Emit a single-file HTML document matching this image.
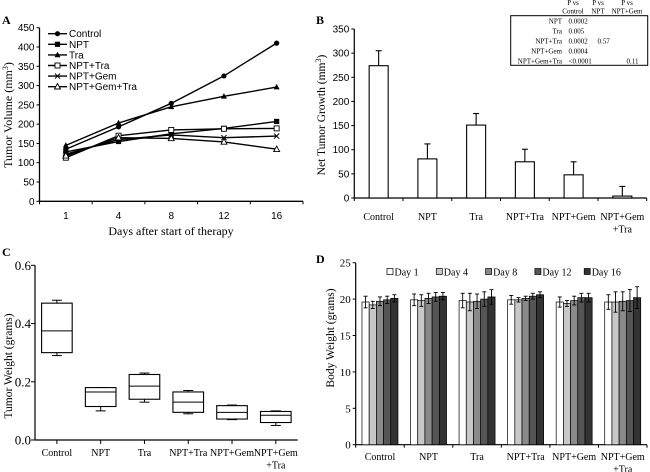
<!DOCTYPE html>
<html><head><meta charset="utf-8"><style>
html,body{margin:0;padding:0;background:#fff;}
svg{display:block;}
.sans{font-family:"Liberation Sans",sans-serif;}
.serif{font-family:"Liberation Serif",serif;}
</style></head><body>
<svg id="fig" width="650" height="472" xmlns="http://www.w3.org/2000/svg">
<g id="pA"></g>
<g id="pB"></g>
<g id="pC"></g>
<g id="pD"></g>
</svg>
<script>
// ---- Panel A data ----
const aDays = ["1","4","8","12","16"];
const aSeries = ["Control","NPT","Tra","NPT+Tra","NPT+Gem","NPT+Gem+Tra"];
const aControl = [135,193,254,325,410];
const aNPT = [128,155,175,189,207];
const aTra = [145,203,245,272,296];
const aNPTTra = [113,170,185,188,189];
const aNPTGem = [122,160,172,165,169];
const aNPTGemTra = [118,165,163,154,135];
const aTicks = [0,50,100,150,200,250,300,350,400,450];
// ---- Panel B data ----
const groups = ["Control","NPT","Tra","NPT+Tra","NPT+Gem","NPT+Gem\n+Tra"];
const bValues = [274,81,151,75,48,4];
const bErrors = [31,31,24,26,27,20];
const bTicks = [0,50,100,150,200,250,300,350];
const pRows = ["NPT","Tra","NPT+Tra","NPT+Gem","NPT+Gem+Tra"];
const pControl = ["0.0002","0.005","0.0002","0.0004","<0.0001"];
const pNPT = ["","","0.57","",""];
const pNPTGem = ["","","","","0.11"];
// ---- Panel C data ----
const cMin = [0.29,0.10,0.13,0.09,0.07,0.05];
const cQ1 = [0.30,0.115,0.14,0.095,0.072,0.06];
const cMed = [0.375,0.165,0.185,0.13,0.095,0.085];
const cQ3 = [0.47,0.18,0.225,0.165,0.118,0.098];
const cMax = [0.48,0.18,0.23,0.17,0.12,0.10];
const cTicks = [0.0,0.2,0.4,0.6];
// ---- Panel D data ----
const dDays = ["Day 1","Day 4","Day 8","Day 12","Day 16"];
const dDay1 = [19.6,19.9,19.8,19.9,19.6,19.6];
const dDay4 = [19.2,19.8,19.6,19.9,19.4,19.6];
const dDay8 = [19.7,20.1,19.7,20.1,19.8,19.7];
const dDay12 = [19.9,20.3,20.0,20.4,20.2,19.8];
const dDay16 = [20.1,20.4,20.3,20.6,20.2,20.2];
const dErr1 = [0.8,0.8,1.0,0.6,0.7,1.0];
const dErr4 = [0.5,0.8,1.2,0.3,0.4,1.4];
const dErr8 = [0.6,0.7,1.0,0.3,0.6,1.3];
const dErr12 = [0.5,0.6,1.0,0.4,0.6,1.5];
const dErr16 = [0.5,0.5,1.0,0.4,0.6,1.5];
const dTicks = [0,5,10,15,20,25];

const NS="http://www.w3.org/2000/svg";
function mk(parent,tag,attrs,text){const e=document.createElementNS(NS,tag);for(const k in attrs)e.setAttribute(k,attrs[k]);if(text!==undefined)e.textContent=text;parent.appendChild(e);return e;}
function ln(p,x1,y1,x2,y2,w){return mk(p,'line',{x1,y1,x2,y2,stroke:'#000','stroke-width':w||1});}

// ===== Panel A =====
(function(){
const g=document.getElementById('pA');
const x0=39.5,x1=303,y0=201.3,yTop=27.7;
const Y=v=>y0-(v/450)*(y0-yTop);
const cw=(x1-x0)/aDays.length;
const X=i=>x0+cw*(i+0.5);
let t=mk(g,'text',{x:2,y:24,class:'serif','font-size':12,'font-weight':'bold'},'A');

let ax=ln(g,x0,yTop,x0,y0,1.3);
let xa=ln(g,x0,y0,x1,y0,1.3);
aTicks.forEach(v=>{ln(g,x0-3,Y(v),x0,Y(v));const tt=mk(g,'text',{x:x0-5,y:Y(v)+3.5,'text-anchor':'end',class:'sans','font-size':10},v);});
for(let i=0;i<=aDays.length;i++)ln(g,x0+cw*i,y0,x0+cw*i,y0+3);
aDays.forEach((d,i)=>{const tt=mk(g,'text',{x:X(i),y:219,'text-anchor':'middle',class:'sans','font-size':10},d);});
t=mk(g,'text',{x:171,y:235,'text-anchor':'middle',class:'serif','font-size':12},'Days after start of therapy');
t=mk(g,'text',{x:0,y:0,transform:'translate(12,115) rotate(-90)','text-anchor':'middle',class:'serif','font-size':12});
t.innerHTML='Tumor Volume (mm<tspan font-size="8" dy="-4">3</tspan><tspan dy="4">)</tspan>';
const all=[aControl,aNPT,aTra,aNPTTra,aNPTGem,aNPTGemTra];
function marker(p,k,x,y){
 if(k===0)mk(p,'circle',{cx:x,cy:y,r:2.6,fill:'#000'});
 else if(k===1)mk(p,'rect',{x:x-2.6,y:y-2.6,width:5.2,height:5.2,fill:'#000'});
 else if(k===2)mk(p,'polygon',{points:`${x},${y-3.2} ${x-3},${y+2.3} ${x+3},${y+2.3}`,fill:'#000'});
 else if(k===3)mk(p,'rect',{x:x-2.5,y:y-2.5,width:5,height:5,fill:'#fff',stroke:'#000','stroke-width':0.9});
 else if(k===4){ln(p,x-2.6,y-2.6,x+2.6,y+2.6);ln(p,x-2.6,y+2.6,x+2.6,y-2.6);}
 else mk(p,'polygon',{points:`${x},${y-3.2} ${x-3},${y+2.3} ${x+3},${y+2.3}`,fill:'#fff',stroke:'#000','stroke-width':0.9});
}
all.forEach((s,k)=>{
 const sg=mk(g,'g',{});
 mk(sg,'polyline',{points:s.map((v,i)=>X(i)+','+Y(v)).join(' '),fill:'none',stroke:'#000','stroke-width':1.4});
 s.forEach((v,i)=>marker(sg,k,X(i),Y(v)));
 const ly=33.7+k*10.6;
 const lg=mk(g,'g',{});
 ln(lg,48,ly,67,ly,1.4);marker(lg,k,57.5,ly);
 mk(lg,'text',{x:69,y:ly+3.5,class:'sans','font-size':10},aSeries[k]);
});
})();

// ===== Panel B =====
(function(){
const g=document.getElementById('pB');
const x0=354.3,x1=646.7,y0=198,yTop=29;
const Y=v=>y0-(v/350)*(y0-yTop);
const cw=(x1-x0)/groups.length;const X=i=>x0+cw*(i+0.5);
let t=mk(g,'text',{x:316,y:24,class:'serif','font-size':12,'font-weight':'bold'},'B');
ln(g,x0,yTop,x0,y0,1.2);ln(g,x0,y0,x1,y0,1.2);
bTicks.forEach(v=>{ln(g,x0-3,Y(v),x0,Y(v));const tt=mk(g,'text',{x:x0-5,y:Y(v)+3.5,'text-anchor':'end',class:'sans','font-size':10},v);});
for(let i=0;i<=groups.length;i++)ln(g,x0+cw*i,y0,x0+cw*i,y0+3);
groups.forEach((c,i)=>{
 const b=mk(g,'rect',{x:X(i)-9.5,y:Y(bValues[i]),width:19,height:y0-Y(bValues[i]),fill:'#fff',stroke:'#000','stroke-width':1.1});
 
 ln(g,X(i),Y(bValues[i]),X(i),Y(bValues[i]+bErrors[i]),1.1);ln(g,X(i)-3,Y(bValues[i]+bErrors[i]),X(i)+3,Y(bValues[i]+bErrors[i]),1.1);
 c.split('\n').forEach((l,j)=>{const tt=mk(g,'text',{x:X(i),y:220+j*12.5,'text-anchor':'middle',class:'serif','font-size':10},l);});
});
t=mk(g,'text',{x:0,y:0,transform:'translate(325,115) rotate(-90)','text-anchor':'middle',class:'serif','font-size':11.5});
t.innerHTML='Net Tumor Growth (mm<tspan font-size="8" dy="-4">3</tspan><tspan dy="4">)</tspan>';
const tb=mk(g,'g',{});
mk(tb,'rect',{x:510.7,y:15.7,width:137,height:49.6,fill:'none',stroke:'#000','stroke-width':1});
const hd=[[573,'P vs','Control'],[598,'P vs','NPT'],[627,'P vs','NPT+Gem']];
hd.forEach(h=>{mk(tb,'text',{x:h[0],y:5,'text-anchor':'middle',class:'serif','font-size':7},h[1]);mk(tb,'text',{x:h[0],y:13.5,'text-anchor':'middle',class:'serif','font-size':7},h[2]);});
pRows.forEach((r,i)=>{const y=23.5+i*10;
 mk(tb,'text',{x:562,y,'text-anchor':'end',class:'serif','font-size':7},r);
 mk(tb,'text',{x:568.5,y,class:'serif','font-size':7},pControl[i]);
 if(pNPT[i])mk(tb,'text',{x:597.5,y,class:'serif','font-size':7},pNPT[i]);
 if(pNPTGem[i])mk(tb,'text',{x:626.5,y,class:'serif','font-size':7},pNPTGem[i]);
});
})();

// ===== Panel C =====
(function(){
const g=document.getElementById('pC');
const x0=35,x1=297.7,y0=440,yTop=265.3;
const Y=v=>y0-(v/0.6)*(y0-yTop);
const cw=(x1-x0)/groups.length;const X=i=>x0+cw*(i+0.5);
let t=mk(g,'text',{x:2,y:256,class:'serif','font-size':12,'font-weight':'bold'},'C');
ln(g,x0,yTop,x0,y0,1.2);ln(g,x0,y0,x1,y0,1.2);
cTicks.forEach(v=>{ln(g,x0-4,Y(v),x0,Y(v));const tt=mk(g,'text',{x:x0-4,y:Y(v)+4.5,'text-anchor':'end',class:'serif','font-size':13},v.toFixed(1));});
groups.forEach((c,i)=>{
 ln(g,X(i),y0,X(i),y0+4);
 const bg=mk(g,'g',{});
 const x=X(i);
 ln(bg,x,Y(cMax[i]),x,Y(cQ3[i]));ln(bg,x,Y(cQ1[i]),x,Y(cMin[i]));
 ln(bg,x-5,Y(cMax[i]),x+5,Y(cMax[i]));ln(bg,x-5,Y(cMin[i]),x+5,Y(cMin[i]));
 mk(bg,'rect',{x:x-15.3,y:Y(cQ3[i]),width:30.6,height:Y(cQ1[i])-Y(cQ3[i]),fill:'#fff',stroke:'#000','stroke-width':1.1});
 ln(bg,x-15.3,Y(cMed[i]),x+15.3,Y(cMed[i]));
 c.split('\n').forEach((l,j)=>{const tt=mk(g,'text',{x,y:456+j*12.5,'text-anchor':'middle',class:'serif','font-size':10},l);});
});
t=mk(g,'text',{x:0,y:0,transform:'translate(12,366) rotate(-90)','text-anchor':'middle',class:'serif','font-size':11.5},'Tumor Weight (grams)');
})();

// ===== Panel D =====
(function(){
const g=document.getElementById('pD');
const x0=355.7,x1=647,y0=444.7,yTop=262.7;
const Y=v=>y0-(v/25)*(y0-yTop);
const cw=(x1-x0)/groups.length;const X=i=>x0+cw*(i+0.5);
let t=mk(g,'text',{x:316,y:263,class:'serif','font-size':12,'font-weight':'bold'},'D');
ln(g,x0,yTop,x0,y0,1.2);ln(g,x0,y0,x1,y0,1.2);
dTicks.forEach(v=>{ln(g,x0-3,Y(v),x0,Y(v));const tt=mk(g,'text',{x:x0-5,y:Y(v)+4,'text-anchor':'end',class:'serif','font-size':11},v);});
for(let i=0;i<=groups.length;i++)ln(g,x0+cw*i,y0,x0+cw*i,y0+3);
const fills=['#fff','#c8c8c8','#8a8a8a','#555','#333'];
const vals=[dDay1,dDay4,dDay8,dDay12,dDay16],errs=[dErr1,dErr4,dErr8,dErr12,dErr16];
const bw=7.2;
groups.forEach((c,i)=>{
 vals.forEach((s,k)=>{
  const x=X(i)-2.5*bw+k*bw;
  const b=mk(g,'rect',{x,y:Y(s[i]),width:bw,height:y0-Y(s[i]),fill:fills[k],stroke:'#000','stroke-width':0.7});
  
  const cx=x+bw/2,e=errs[k][i];
  ln(g,cx,Y(s[i]+e),cx,Y(s[i]-e),0.9);ln(g,cx-2,Y(s[i]+e),cx+2,Y(s[i]+e),0.9);ln(g,cx-2,Y(s[i]-e),cx+2,Y(s[i]-e),0.9);
 });
 c.split('\n').forEach((l,j)=>{const tt=mk(g,'text',{x:X(i),y:460+j*12.5,'text-anchor':'middle',class:'serif','font-size':10},l);});
});
dDays.forEach((d,k)=>{
 const lx=387+k*49.3;
 const lg=mk(g,'g',{});
 mk(lg,'rect',{x:lx,y:268.5,width:6,height:6,fill:fills[k],stroke:'#000','stroke-width':0.7});
 mk(lg,'text',{x:lx+7.5,y:275.5,class:'serif','font-size':10},d);
});
t=mk(g,'text',{x:0,y:0,transform:'translate(334,338) rotate(-90)','text-anchor':'middle',class:'serif','font-size':11.5},'Body Weight (grams)');
})();
</script>
</body></html>
